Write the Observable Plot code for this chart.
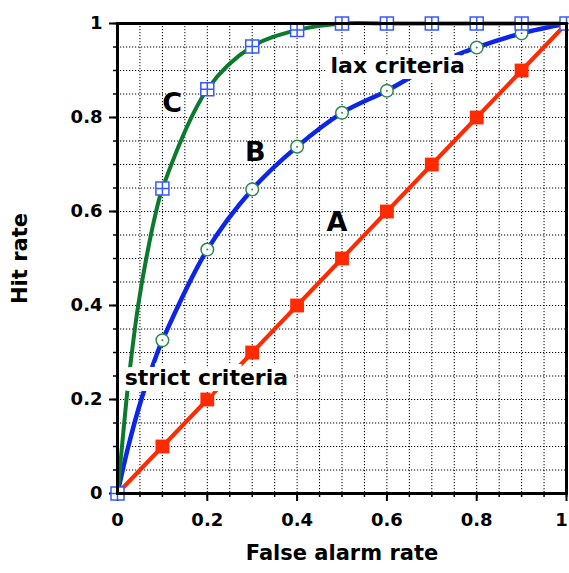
<!DOCTYPE html>
<html>
<head>
<meta charset="utf-8">
<script src="https://cdn.jsdelivr.net/npm/d3@7"></script>
<script src="https://cdn.jsdelivr.net/npm/@observablehq/plot@0.6"></script>
<style>
  html, body { margin: 0; padding: 0; background: #fff; }
</style>
</head>
<body>
<div id="chart"></div>
<script>
// ---- Data ----
const falseAlarm = [0, 0.1, 0.2, 0.3, 0.4, 0.5, 0.6, 0.7, 0.8, 0.9, 1];
// Curve A (chance-like, red filled squares)
const hitA = [0, 0.1, 0.2, 0.3, 0.4, 0.5, 0.6, 0.7, 0.8, 0.9, 1];
// Curve B (blue line, green open circles)
const hitB = [0, 0.326, 0.519, 0.647, 0.738, 0.81, 0.857, 0.91, 0.949, 0.979, 1];
// Curve C (green line, blue crossed squares)
const hitC = [0, 0.649, 0.86, 0.951, 0.986, 1, 1, 1, 1, 1, 1];
// Extra points read along the steep start of curve C
const curveCx = [0, 0.01, 0.02, 0.032, 0.046, 0.064, 0.086, 0.1, 0.2, 0.3, 0.4, 0.5, 0.6, 0.7, 0.8, 0.9, 1];
const curveCy = [0, 0.1, 0.2, 0.3, 0.4, 0.5, 0.6, 0.649, 0.86, 0.951, 0.986, 1, 1, 1, 1, 1, 1];
// Extra points read along the start of curve B
const curveBx = [0, 0.024, 0.053, 0.089, 0.1, 0.2, 0.3, 0.4, 0.5, 0.6, 0.7, 0.8, 0.9, 1];
const curveBy = [0, 0.1, 0.2, 0.3, 0.326, 0.519, 0.647, 0.738, 0.81, 0.857, 0.91, 0.949, 0.979, 1];

const markerIdxA = [1, 2, 3, 4, 5, 6, 7, 8, 9];
const markerIdxB = [1, 2, 3, 4, 5, 6, 7, 8, 9];
const markerIdxC = [0, 1, 2, 3, 4, 5, 6, 7, 8, 9, 10];

const majorTicks = [0, 0.2, 0.4, 0.6, 0.8];
const lastTick = [1];
const minorTicks = [0, 0.05, 0.1, 0.15, 0.2, 0.25, 0.3, 0.35, 0.4, 0.45, 0.5,
                    0.55, 0.6, 0.65, 0.7, 0.75, 0.8, 0.85, 0.9, 0.95, 1];

const curveLabels = [
  {text: "C", x: 0.122, y: 0.83},
  {text: "B", x: 0.307, y: 0.726},
  {text: "A", x: 0.489, y: 0.577}
];
const criteriaLabels = [
  {text: "lax criteria", x: 0.624, y: 0.909},
  {text: "strict criteria", x: 0.198, y: 0.245}
];

// ---- Build tables ----
const ptsA = markerIdxA.map(i => ({x: falseAlarm[i], y: hitA[i]}));
const ptsB = markerIdxB.map(i => ({x: falseAlarm[i], y: hitB[i]}));
const ptsC = markerIdxC.map(i => ({x: falseAlarm[i], y: hitC[i]}));
const lineA = falseAlarm.map((x, i) => ({x, y: hitA[i]}));
const lineB = curveBx.map((x, i) => ({x, y: curveBy[i]}));
const lineC = curveCx.map((x, i) => ({x, y: curveCy[i]}));

const RED = "#ff2a00", BLUE = "#0b26e8", GREEN = "#0c7a2c";
const MBLUE = "#3658ff", MGREEN = "#2e8b50";

// square with a cross inside
const crossedSquare = {
  draw(ctx, size) {
    const s = Math.sqrt(size / Math.PI);
    ctx.moveTo(-s, -s); ctx.lineTo(s, -s); ctx.lineTo(s, s); ctx.lineTo(-s, s); ctx.closePath();
    ctx.moveTo(0, -s); ctx.lineTo(0, s);
    ctx.moveTo(-s, 0); ctx.lineTo(s, 0);
  }
};

const FONT = "'DejaVu Sans', 'Liberation Sans', sans-serif";
const fmt = d => String(d);

const chart = Plot.plot({
  width: 569,
  height: 573,
  marginLeft: 117,
  marginRight: 3,
  marginTop: 23,
  marginBottom: 80,
  x: {domain: [0, 1]},
  y: {domain: [0, 1]},
  style: {fontFamily: FONT, fontWeight: "bold", background: "white", color: "black"},
  marks: [
    Plot.gridX(minorTicks, {stroke: "black", strokeOpacity: 1, strokeWidth: 1, strokeDasharray: "1.2,1.8"}),
    Plot.gridY(minorTicks, {stroke: "black", strokeOpacity: 1, strokeWidth: 1, strokeDasharray: "1.2,1.8"}),
    Plot.axisX(minorTicks, {tickSize: 4, strokeWidth: 1.5, text: null, label: null}),
    Plot.axisY(minorTicks, {tickSize: 4, strokeWidth: 1.5, text: null, label: null}),
    Plot.axisX(majorTicks, {tickSize: 8, tickPadding: 12, strokeWidth: 2, fontSize: 18, tickFormat: fmt, label: null}),
    Plot.axisX(lastTick, {tickSize: 8, tickPadding: 12, strokeWidth: 2, fontSize: 18, tickFormat: fmt, label: null, text: null}),
    Plot.axisX(lastTick, {tickSize: 0, tickPadding: 20, fontSize: 18, tickFormat: fmt, label: null, dx: -5}),
    Plot.axisY(majorTicks.concat(lastTick), {tickSize: 8, tickPadding: 7, strokeWidth: 2, fontSize: 18, tickFormat: fmt, label: null}),
    Plot.text(["False alarm rate"], {frameAnchor: "bottom", lineAnchor: "middle", textAnchor: "middle", dy: 60, fontSize: 21, fontWeight: "bold"}),
    Plot.text(["Hit rate"], {frameAnchor: "left", textAnchor: "middle", lineAnchor: "middle", dx: -97, rotate: -90, fontSize: 21, fontWeight: "bold"}),
    // lines
    Plot.line(lineA, {x: "x", y: "y", stroke: RED, strokeWidth: 4}),
    Plot.line(lineB, {x: "x", y: "y", stroke: BLUE, strokeWidth: 4.5, curve: "catmull-rom"}),
    Plot.line(lineC, {x: "x", y: "y", stroke: GREEN, strokeWidth: 4, curve: "catmull-rom"}),
    // markers
    Plot.dot(ptsA, {x: "x", y: "y", symbol: "square", r: 7.8, fill: RED, stroke: "none"}),
    Plot.dot(ptsB, {x: "x", y: "y", symbol: "circle", r: 6.3, fill: "white", stroke: MGREEN, strokeWidth: 1.5}),
    Plot.dot(ptsB, {x: "x", y: "y", symbol: "circle", r: 1, fill: MGREEN, stroke: "none"}),
    Plot.dot(ptsC, {x: "x", y: "y", symbol: crossedSquare, r: 6.5, fill: "white", stroke: MBLUE, strokeWidth: 1.5}),
    // criteria labels with white boxes
    Plot.text(criteriaLabels, {x: "x", y: "y", text: "text", fontSize: 22, fontWeight: "bold",
      fill: "black", stroke: "white", strokeWidth: 12, strokeLinejoin: "miter"}),
    // curve names
    Plot.text(curveLabels, {x: "x", y: "y", text: "text", fontSize: 27, fontWeight: "bold", fill: "black"}),
    Plot.frame({stroke: "black", strokeWidth: 3})
  ]
});
document.getElementById("chart").appendChild(chart);
</script>
</body>
</html>
